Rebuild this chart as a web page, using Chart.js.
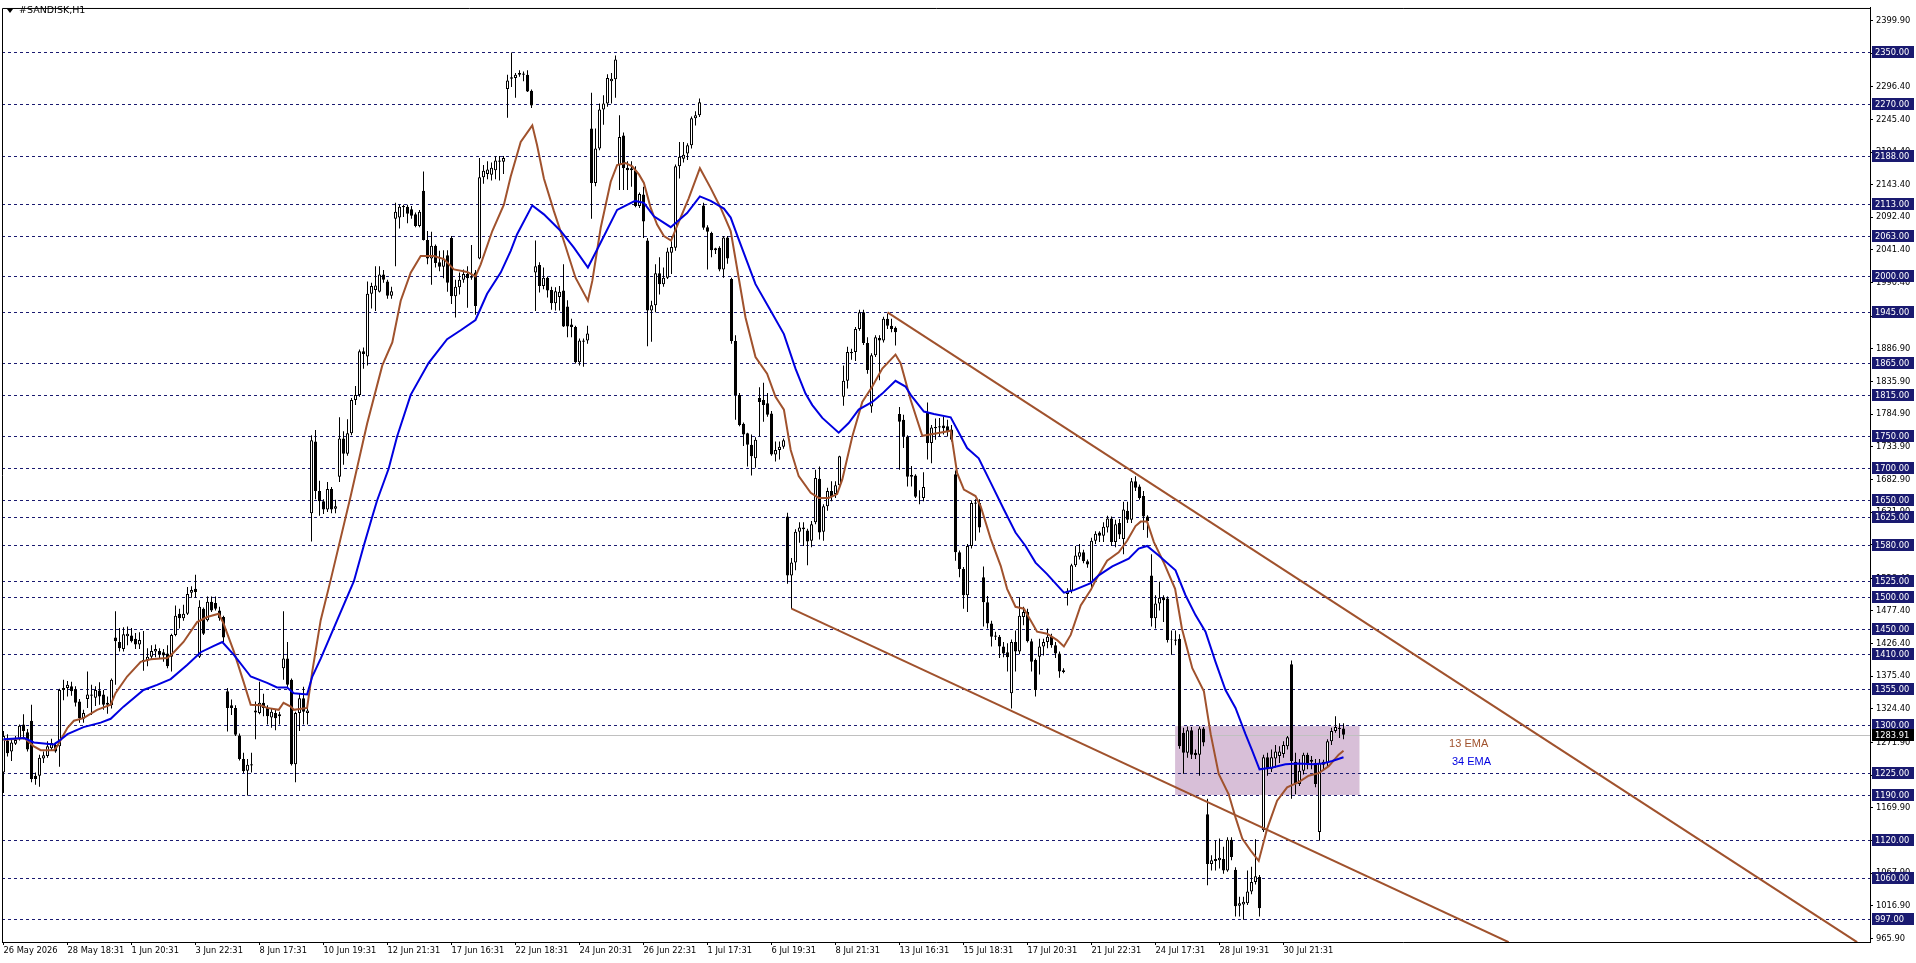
<!DOCTYPE html>
<html>
<head>
<meta charset="utf-8">
<title>#SANDISK,H1</title>
<script src="https://cdn.jsdelivr.net/npm/chart.js@4.4.1/dist/chart.umd.min.js"></script>
<style>
html, body { margin: 0; padding: 0; background: #fff; overflow: hidden; }
#chart { display: block; }
</style>
</head>
<body>
<canvas id="chart" width="1916" height="963"></canvas>
<script>
// H1 candles (one row = 16 bars)
const opens = [
  1225,1275,1258,1270,1277,1300,1288,1306,1220,1220,1247,1251,1263,1268,1266,1354,
  1357,1360,1355,1336,1309,1340,1345,1342,1353,1347,1334,1330,1436,1429,1418,1438,
  1439,1434,1425,1401,1400,1406,1414,1415,1413,1411,1406,1440,1473,1466,1473,1506,
  1512,1406,1481,1463,1492,1490,1478,1468,1352,1330,1326,1283,1246,1228,1236,1319,
  1318,1334,1326,1311,1318,1313,1388,1403,1370,1238,1318,1341,1318,1630,1742,1665,
  1649,1636,1668,1637,1687,1747,1723,1755,1807,1815,1883,1875,1973,1979,1976,2003,
  1992,1970,2090,2092,2108,2109,2105,2097,2079,2134,2057,2028,2048,2022,2015,2033,
  2060,1969,1983,1995,2004,1998,2006,2028,2155,2160,2159,2166,2179,2179,2293,2309,
  2310,2315,2317,2315,2290,2006,2018,1985,1998,1979,1958,1968,1978,1953,1925,1921,
  1866,1900,1900,2231,2146,2200,2261,2270,2305,2308,2174,2220,2170,2169,2166,2110,
  2128,2056,1947,1955,2005,1988,1998,2037,2045,2172,2184,2192,2205,2247,2252,2111,
  2077,2068,2041,2045,2011,2061,1996,1899,1815,1770,1755,1737,1716,1810,1807,1802,
  1786,1722,1729,1734,1625,1533,1553,1601,1608,1603,1587,1616,1684,1601,1641,1665,
  1660,1674,1812,1837,1882,1882,1918,1944,1896,1797,1877,1904,1900,1934,1923,1920,
  1785,1776,1750,1687,1689,1655,1654,1787,1740,1763,1764,1767,1766,1761,1691,1569,
  1543,1502,1579,1645,1646,1530,1491,1458,1439,1437,1422,1413,1349,1429,1414,1468,
  1476,1430,1401,1406,1422,1429,1437,1424,1411,1382,1504,1509,1549,1562,1569,1555,
  1522,1587,1600,1595,1608,1622,1585,1615,1590,1634,1620,1680,1672,1657,1625,1533,
  1466,1489,1499,1497,1432,1433,1434,1287,1256,1291,1256,1253,1294,1160,1082,1087,
  1088,1090,1072,1120,1073,1017,1019,1021,1039,1054,1062,1135,1249,1231,1247,1251,
  1254,1266,1394,1242,1207,1228,1253,1245,1240,1132,1237,1240,1274,1290,1293,1294
];
const highs = [
  1290,1285,1276,1282,1300,1316,1293,1331,1225,1253,1258,1274,1278,1272,1356,1370,
  1368,1367,1360,1340,1323,1383,1362,1360,1366,1354,1344,1372,1477,1451,1452,1453,
  1451,1443,1444,1446,1419,1424,1425,1419,1418,1424,1442,1486,1481,1487,1515,1516,
  1534,1494,1483,1500,1500,1500,1484,1470,1357,1339,1330,1286,1256,1246,1256,1336,
  1367,1348,1330,1325,1323,1320,1477,1429,1372,1320,1349,1359,1326,1752,1760,1681,
  1652,1679,1671,1651,1780,1758,1777,1810,1829,1886,1889,1992,1990,2016,2016,2010,
  1995,1984,2115,2112,2112,2112,2110,2100,2104,2164,2071,2070,2050,2040,2041,2041,
  2063,1995,2006,2011,2016,2049,2010,2185,2174,2180,2178,2188,2188,2188,2315,2350,
  2318,2322,2320,2322,2292,2056,2022,2014,2000,1984,1983,1985,2019,1963,1934,1923,
  1903,1903,1923,2287,2231,2270,2283,2316,2318,2345,2252,2225,2180,2180,2172,2131,
  2140,2060,1962,2019,2030,2014,2045,2063,2175,2210,2210,2208,2250,2258,2278,2115,
  2080,2070,2045,2047,2063,2063,1998,1908,1818,1772,1756,1753,1749,1827,1834,1818,
  1790,1742,1742,1747,1631,1560,1605,1616,1616,1606,1618,1698,1703,1644,1670,1680,
  1680,1720,1861,1890,1887,1921,1948,1948,1905,1880,1908,1908,1937,1942,1934,1922,
  1796,1784,1752,1704,1691,1666,1694,1803,1768,1778,1779,1781,1776,1768,1697,1572,
  1546,1582,1650,1652,1652,1547,1501,1462,1445,1440,1429,1427,1433,1447,1499,1484,
  1481,1434,1403,1434,1434,1450,1442,1429,1414,1388,1513,1551,1579,1582,1573,1558,
  1592,1602,1602,1616,1626,1625,1620,1621,1648,1648,1685,1688,1675,1665,1627,1566,
  1502,1523,1502,1500,1447,1447,1441,1295,1297,1296,1261,1297,1296,1184,1096,1119,
  1122,1109,1124,1124,1077,1031,1031,1072,1078,1121,1065,1253,1256,1261,1268,1266,
  1274,1282,1400,1256,1246,1256,1256,1251,1246,1246,1245,1277,1295,1313,1302,1302
];
const lows = [
  1193,1250,1243,1268,1275,1277,1258,1210,1206,1203,1240,1248,1260,1256,1234,1338,
  1344,1345,1328,1303,1303,1326,1315,1329,1331,1323,1317,1325,1362,1414,1414,1424,
  1428,1418,1418,1384,1391,1401,1405,1404,1398,1388,1383,1438,1450,1462,1471,1498,
  1498,1404,1440,1461,1476,1478,1462,1429,1289,1315,1282,1244,1224,1189,1225,1277,
  1316,1313,1300,1295,1291,1300,1370,1358,1236,1210,1290,1300,1300,1586,1652,1626,
  1629,1632,1630,1630,1679,1706,1720,1752,1799,1812,1856,1861,1950,1946,1975,1990,
  1965,1965,2016,2075,2093,2083,2090,2077,2077,2056,2019,1987,2014,2008,1997,1976,
  1957,1936,1972,1990,1951,1995,1940,2027,2145,2152,2150,2152,2150,2160,2248,2296,
  2279,2312,2305,2288,2263,1946,1975,1980,1967,1948,1947,1947,1921,1905,1905,1864,
  1861,1859,1895,2090,2141,2197,2237,2265,2270,2279,2135,2135,2135,2140,2108,2107,
  2060,1891,1898,1944,1972,1984,1996,2004,2040,2153,2178,2182,2200,2236,2249,2073,
  2011,2030,2035,2008,1998,2020,1895,1776,1766,1735,1703,1689,1701,1750,1773,1781,
  1720,1711,1714,1731,1520,1481,1541,1584,1579,1549,1577,1613,1589,1587,1634,1649,
  1654,1670,1798,1825,1870,1868,1915,1893,1848,1787,1874,1838,1897,1918,1913,1892,
  1698,1732,1672,1672,1654,1644,1649,1714,1708,1745,1750,1753,1750,1742,1556,1530,
  1481,1476,1575,1587,1600,1453,1450,1422,1432,1404,1405,1383,1325,1383,1410,1455,
  1428,1383,1344,1378,1408,1419,1420,1404,1373,1380,1486,1505,1546,1558,1552,1545,
  1515,1582,1585,1585,1600,1579,1577,1590,1566,1615,1615,1665,1651,1604,1592,1453,
  1450,1478,1460,1428,1409,1424,1262,1223,1248,1246,1246,1220,1266,1049,1072,1072,
  1075,1067,1070,1088,1000,1000,995,1018,1035,1050,1000,1132,1220,1226,1233,1240,
  1248,1261,1184,1191,1204,1222,1230,1230,1202,1119,1230,1235,1268,1287,1279,1277
];
const closes = [
  1282,1255,1272,1276,1298,1290,1261,1215,1215,1248,1252,1266,1271,1258,1354,1357,
  1362,1352,1334,1310,1318,1347,1347,1354,1344,1331,1331,1370,1430,1419,1441,1442,
  1430,1425,1432,1398,1406,1415,1418,1410,1408,1391,1440,1470,1466,1473,1504,1510,
  1507,1484,1442,1492,1478,1481,1466,1436,1326,1326,1284,1246,1227,1237,1238,1322,
  1334,1326,1313,1320,1310,1316,1403,1362,1238,1318,1341,1320,1322,1744,1665,1649,
  1636,1668,1636,1641,1747,1723,1755,1807,1815,1883,1879,1973,1985,1986,2003,1995,
  1970,1977,2101,2109,2110,2098,2095,2079,2101,2057,2028,2048,2021,2015,2027,1990,
  1969,1984,1995,2004,1997,2000,1954,2155,2165,2167,2170,2181,2181,2185,2306,2311,
  2315,2318,2315,2289,2267,2016,1985,1998,1978,1958,1977,1976,1922,1922,1921,1866,
  1900,1898,1911,2146,2200,2261,2270,2310,2309,2339,2218,2169,2166,2166,2110,2129,
  2086,1947,1955,2005,1988,1998,2039,2046,2172,2187,2190,2205,2247,2252,2272,2076,
  2070,2041,2044,2011,2061,2028,1899,1815,1768,1753,1737,1719,1745,1804,1799,1784,
  1722,1729,1734,1744,1533,1553,1601,1608,1605,1586,1613,1685,1600,1641,1665,1657,
  1674,1719,1837,1882,1880,1918,1944,1896,1854,1877,1905,1900,1934,1923,1918,1913,
  1773,1750,1687,1690,1656,1656,1671,1740,1764,1765,1766,1763,1758,1745,1569,1543,
  1502,1579,1646,1647,1608,1491,1458,1437,1437,1422,1411,1405,1429,1414,1470,1476,
  1430,1398,1354,1422,1429,1437,1424,1411,1383,1385,1509,1549,1564,1569,1555,1550,
  1587,1598,1595,1609,1622,1585,1613,1597,1636,1620,1680,1670,1654,1625,1618,1466,
  1489,1498,1494,1432,1433,1431,1266,1256,1291,1253,1252,1294,1272,1082,1088,1090,
  1092,1072,1120,1093,1016,1021,1023,1039,1054,1063,1013,1249,1230,1249,1258,1258,
  1268,1280,1243,1207,1228,1253,1240,1242,1207,1240,1242,1274,1290,1296,1295,1283.91
];

// 13 EMA (brown) and 34 EMA (blue): bar position / price
const ema13Bars = [0,5.2,7.6,9.3,12.6,13.4,16,17.6,20,23.4,26.8,28,30.9,34.3,36.8,40.9,42,45,48.4,50.9,
  53.8,55,57.6,60,61.8,64.3,65.9,68.8,70,71.8,72.6,75.9,77.2,79.3,81.8,86.8,90.9,94.7,97.2,99.3,
  101.8,104.3,107.6,110.1,112.6,115.9,118,119.3,122.2,125.1,126.8,129.3,132.2,133.4,135.1,137.6,140.1,143,146.1,147.2,
  149.3,151.8,153.4,155.5,157.2,158.9,160.1,161.8,163.4,165.1,166.9,168.4,171.3,174.1,176.8,179.3,181.8,183.8,185.5,188,
  190.9,193,195.1,196.8,198.8,201.8,203.8,206.3,208.4,209.7,212.2,214.7,217.2,219.7,223,224.3,226.8,229.7,233.4,236.8,
  238.4,240.1,243,244.3,246.8,249.3,250.9,253,255.1,258.4,260.9,263.4,265.1,266.8,269.3,271.8,273,275.9,278.8,280.9,
  283,284.3,285.9,287.6,290,292.9,294.6,297.2,300.1,301.8,303.8,306.3,308,309.7,311.8,313.8,315.9,318.4,320.9,323.8,
  326.3,328.8,331.3,333.8,335];
const ema13Vals = [1276,1279,1266,1260,1260,1266,1295,1306,1310,1323,1331,1349,1375,1398,1402,1404,1409,1429,1460,1468,
  1473,1458,1414,1367,1331,1330,1326,1323,1334,1328,1323,1326,1383,1463,1526,1657,1770,1861,1897,1962,
  2006,2032,2032,2027,2011,2007,2000,2019,2071,2112,2156,2210,2236,2205,2153,2102,2055,1998,1962,1993,
  2076,2148,2174,2177,2172,2159,2146,2107,2081,2063,2056,2079,2122,2169,2138,2107,2071,1998,1936,1874,
  1848,1812,1792,1729,1688,1662,1654,1654,1660,1683,1750,1804,1828,1856,1878,1864,1807,1751,1755,1759,
  1693,1667,1657,1641,1590,1548,1512,1484,1481,1445,1442,1432,1422,1440,1486,1510,1525,1556,1569,1587,
  1610,1617,1617,1585,1554,1512,1450,1388,1352,1285,1223,1191,1155,1122,1103,1087,1137,1181,1202,1210,
  1220,1224,1235,1253,1259];
const ema34Bars = [0,5.2,7.6,12.6,13.8,16,20,24.3,26.8,30,35,38.4,41.8,45.9,49.3,52.6,54.7,57.6,61.8,65.9,
  68.4,70.9,72.6,75.9,77.2,79.3,87.6,90.1,92.2,93.4,96.3,98.4,101.8,106.3,110.9,114.3,118,120.9,124.3,126.8,
  128.4,132.2,135.1,139.3,142.6,146.1,149.3,153.4,157.9,160.1,162.6,166.8,170.9,174.1,176.8,180.1,181.8,183.8,188,191.3,
  195.1,198,200.5,202.2,204.7,208.8,211.3,213.8,217.2,219.7,223,225.5,226.8,230.1,232.6,236.8,240.9,243.8,246.8,250.1,
  253,255.5,258,260.9,265.1,267.6,271.8,273.8,277.2,281.3,283.8,285.9,288.8,293,295.5,298,300.5,303,305.5,308,
  310.5,312.2,314,317.2,320.5,323.8,327.2,329.7,332.2,335];
const ema34Vals = [1277,1279,1272,1269,1274,1285,1296,1303,1309,1328,1354,1362,1371,1393,1413,1423,1429,1409,1375,1365,
  1358,1358,1349,1347,1375,1403,1524,1580,1625,1650,1700,1750,1815,1865,1902,1916,1932,1973,2006,2040,
  2066,2111,2097,2071,2045,2014,2053,2104,2118,2115,2094,2077,2099,2125,2118,2106,2092,2058,1988,1952,
  1910,1856,1817,1799,1779,1756,1771,1792,1804,1817,1837,1828,1815,1789,1785,1780,1732,1716,1678,1636,
  1600,1579,1553,1535,1506,1510,1521,1533,1547,1559,1575,1579,1564,1541,1502,1471,1445,1398,1354,1326,
  1285,1259,1230,1233,1238,1239,1238,1239,1243,1249];

// drawn objects
const levels = [2350, 2270, 2188, 2113, 2063, 2000, 1945, 1865, 1815, 1750, 1700, 1650, 1625,
  1580, 1525, 1500, 1450, 1410, 1355, 1300, 1225, 1190, 1120, 1060, 997];
const upperChannel = [[221, 1944], [463.4, 960]];
const lowerChannel = [[197, 1481], [376.3, 960]];
const zoneBars = [292.9, 339];
const zonePrices = [1190, 1297.5];
const lastPrice = 1283.91;

// axes
const priceTicks = [2399.9, 2348.9, 2296.4, 2245.4, 2194.4, 2143.4, 2092.4, 2041.4, 1990.4, 1937.9,
  1886.9, 1835.9, 1784.9, 1733.9, 1682.9, 1631.9, 1580.9, 1528.4, 1477.4, 1426.4, 1375.4, 1324.4,
  1271.9, 1220.9, 1169.9, 1118.9, 1067.9, 1016.9, 965.9];
const timeLabels = ['26 May 2026', '28 May 18:31', '1 Jun 20:31', '3 Jun 22:31', '8 Jun 17:31',
  '10 Jun 19:31', '12 Jun 21:31', '17 Jun 16:31', '22 Jun 18:31', '24 Jun 20:31', '26 Jun 22:31',
  '1 Jul 17:31', '6 Jul 19:31', '8 Jul 21:31', '13 Jul 16:31', '15 Jul 18:31', '17 Jul 20:31',
  '21 Jul 22:31', '24 Jul 17:31', '28 Jul 19:31', '30 Jul 21:31'];
const timeBars = timeLabels.map((_, i) => i * 16);

const SIENNA = '#a0522d';
const EMA_BLUE = '#0000e0';
const NAVY = '#1a1a70';
const axisFont = { family: 'DejaVu Sans', size: 8.3 };

const wickData = opens.map((_, i) => ({ x: i, y: [lows[i], highs[i]] }));
const bodyData = opens.map((o, i) => ({ x: i, y: [o, closes[i]] }));
const bodyColors = opens.map((o, i) => closes[i] >= o ? '#ffffff' : '#000000');
const toPts = (bars, vals) => bars.map((b, i) => ({ x: b, y: vals[i] }));
const pairPts = arr => arr.map(p => ({ x: p[0], y: p[1] }));

const overlay = {
  id: 'overlay',
  beforeDatasetsDraw(chart) {
    const { ctx, chartArea: a, scales: { x, y } } = chart;
    ctx.save();
    ctx.beginPath();
    ctx.rect(a.left, a.top, a.right - a.left, a.bottom - a.top);
    ctx.clip();
    // purple zone
    const rx0 = x.getPixelForValue(zoneBars[0]), rx1 = x.getPixelForValue(zoneBars[1]);
    const ry0 = y.getPixelForValue(zonePrices[1]), ry1 = y.getPixelForValue(zonePrices[0]);
    ctx.fillStyle = '#d8bfd8';
    ctx.fillRect(rx0, ry0, rx1 - rx0, ry1 - ry0);
    // bid line
    ctx.strokeStyle = '#c0c0c0';
    ctx.lineWidth = 1;
    let py = Math.round(y.getPixelForValue(lastPrice)) + 0.5;
    ctx.beginPath(); ctx.moveTo(a.left, py); ctx.lineTo(a.right, py); ctx.stroke();
    // horizontal levels
    ctx.strokeStyle = NAVY;
    ctx.setLineDash([3, 3]);
    levels.forEach(v => {
      py = Math.round(y.getPixelForValue(v)) + 0.5;
      ctx.beginPath(); ctx.moveTo(a.left, py); ctx.lineTo(a.right, py); ctx.stroke();
    });
    ctx.restore();
  },
  afterDatasetsDraw(chart) {
    const { ctx, scales: { x, y } } = chart;
    ctx.save();
    ctx.font = '11px "Liberation Sans"';
    ctx.textBaseline = 'middle';
    ctx.fillStyle = SIENNA;
    ctx.fillText('13 EMA', x.getPixelForValue(361.4), y.getPixelForValue(1269.6));
    ctx.fillStyle = EMA_BLUE;
    ctx.fillText('34 EMA', x.getPixelForValue(362.1), y.getPixelForValue(1241.6));
    ctx.restore();
  },
  afterDraw(chart) {
    const { ctx, chartArea: a, scales: { y } } = chart;
    ctx.save();
    // left + top frame
    ctx.strokeStyle = '#000';
    ctx.lineWidth = 1;
    ctx.beginPath();
    ctx.moveTo(a.left + 0.5, a.bottom);
    ctx.lineTo(a.left + 0.5, a.top + 0.5);
    ctx.lineTo(a.right, a.top + 0.5);
    ctx.stroke();
    // price tags on the axis
    ctx.font = '8.3px "DejaVu Sans"';
    ctx.textBaseline = 'middle';
    levels.forEach(v => {
      const py = Math.round(y.getPixelForValue(v));
      ctx.fillStyle = NAVY;
      ctx.fillRect(a.right + 2, py - 6, 42, 12);
      ctx.fillStyle = '#fff';
      ctx.fillText(v.toFixed(2), a.right + 5, py + 0.5);
    });
    const lp = Math.round(y.getPixelForValue(lastPrice));
    ctx.fillStyle = '#000';
    ctx.fillRect(a.right + 2, lp - 6, 42, 12);
    ctx.fillStyle = '#fff';
    ctx.fillText(lastPrice.toFixed(2), a.right + 5, lp + 0.5);
    // title
    ctx.fillStyle = '#000';
    ctx.beginPath();
    ctx.moveTo(7, 9); ctx.lineTo(13, 9); ctx.lineTo(10, 13); ctx.closePath();
    ctx.fill();
    ctx.font = '9.5px "DejaVu Sans"';
    ctx.fillText('#SANDISK,H1', 19, 11);
    ctx.restore();
  }
};

new Chart(document.getElementById('chart'), {
  type: 'bar',
  data: {
    datasets: [
      { type: 'line', data: toPts(ema34Bars, ema34Vals), borderColor: EMA_BLUE, borderWidth: 2,
        pointRadius: 0, tension: 0, fill: false, order: 0 },
      { type: 'line', data: toPts(ema13Bars, ema13Vals), borderColor: SIENNA, borderWidth: 2,
        pointRadius: 0, tension: 0, fill: false, order: 0 },
      { type: 'line', data: pairPts(upperChannel), borderColor: SIENNA, borderWidth: 2,
        pointRadius: 0, fill: false, order: 0 },
      { type: 'line', data: pairPts(lowerChannel), borderColor: SIENNA, borderWidth: 2,
        pointRadius: 0, fill: false, order: 0 },
      { data: bodyData, backgroundColor: bodyColors, borderColor: '#000', borderWidth: 1,
        borderSkipped: false, barThickness: 3, grouped: false, inflateAmount: 0, order: 1 },
      { data: wickData, backgroundColor: '#000', borderWidth: 0, barThickness: 1,
        grouped: false, inflateAmount: 0, order: 2 }
    ]
  },
  options: {
    responsive: false,
    animation: false,
    devicePixelRatio: 1,
    layout: { padding: { left: 2, top: 2, right: 0, bottom: 0 } },
    plugins: { legend: { display: false }, tooltip: { enabled: false } },
    scales: {
      x: {
        type: 'linear', min: -0.375, max: 466.625, offset: false,
        afterBuildTicks: s => { s.ticks = timeBars.map(v => ({ value: v })); },
        afterFit: s => { s.height = 21; },
        grid: { drawOnChartArea: false, offset: false, tickLength: 3, color: '#000' },
        border: { color: '#000' },
        ticks: { callback: (v, i) => timeLabels[i], align: 'start', maxRotation: 0, autoSkip: false,
          padding: 1, color: '#000', font: axisFont }
      },
      y: {
        position: 'right', min: 960.3, max: 2419.4,
        afterBuildTicks: s => { s.ticks = priceTicks.map(v => ({ value: v })); },
        afterFit: s => { s.width = 46; },
        grid: { drawOnChartArea: false, tickLength: 3, color: '#000' },
        border: { color: '#000' },
        ticks: { callback: v => v.toFixed(2), autoSkip: false, padding: 3, color: '#000', font: axisFont }
      }
    }
  },
  plugins: [overlay]
});
</script>
</body>
</html>
